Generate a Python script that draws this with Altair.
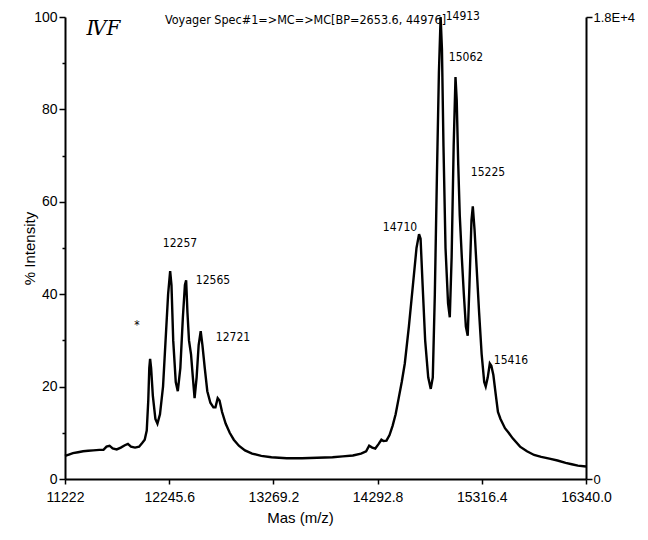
import altair as alt
import pandas as pd

# spectrum (m/z, % intensity)
mz = [11222, 11260, 11300, 11350, 11400, 11450, 11500, 11560, 11600, 11630, 11660, 11690,
      11730, 11770, 11810, 11840, 11870, 11910, 11950, 11980, 12005, 12025, 12040, 12050,
      12058, 12068, 12085, 12110, 12130, 12155, 12185, 12210, 12235, 12255, 12268, 12285,
      12310, 12330, 12355, 12380, 12400, 12412, 12425, 12440, 12460, 12478, 12495, 12515,
      12535, 12555, 12572, 12595, 12620, 12650, 12680, 12700, 12722, 12740, 12765, 12800,
      12840, 12880, 12930, 12990, 13060, 13150, 13250, 13400, 13550, 13700, 13850, 13950,
      14050, 14130, 14180, 14210, 14240, 14270, 14300, 14330, 14350, 14380, 14410, 14440,
      14470, 14500, 14530, 14560, 14600, 14640, 14675, 14700, 14715, 14735, 14760, 14790,
      14815, 14835, 14855, 14875, 14895, 14912, 14925, 14940, 14960, 14985, 15002, 15020,
      15040, 15058, 15070, 15085, 15100, 15120, 15140, 15160, 15178, 15195, 15215, 15228,
      15245, 15265, 15290, 15315, 15340, 15355, 15375, 15395, 15410, 15430, 15455, 15475,
      15500, 15544, 15580, 15620, 15692, 15760, 15830, 15900, 15980, 16060, 16140, 16200,
      16260, 16340]
intensity = [5.0, 5.3, 5.6, 5.8, 6.0, 6.1, 6.2, 6.3, 6.3, 7.0, 7.2, 6.6,
             6.4, 6.8, 7.3, 7.6, 7.0, 6.8, 7.0, 7.8, 8.5, 10.5, 17, 24,
             26, 24, 18, 13, 12, 14, 20, 30, 40, 45, 42, 30,
             21, 19, 24, 35, 42, 43, 36, 30, 27, 22, 17.5, 22,
             29, 32, 29, 24, 19, 16.5, 15.5, 15.5, 17.5, 17, 14.5, 12,
             10, 8.5, 7.2, 6.2, 5.5, 5.0, 4.7, 4.5, 4.5, 4.6, 4.7, 4.9,
             5.1, 5.5, 6.0, 7.2, 6.8, 6.6, 7.5, 8.5, 8.2, 8.3, 9.5, 11.5,
             14, 17.5, 21, 25, 33, 42, 50, 53, 52, 42, 30, 22,
             19.5, 22, 40, 65, 88, 100, 93, 72, 50, 38, 35, 48,
             72, 87, 82, 68, 57, 48, 40, 33, 31, 42, 56, 59,
             54, 46, 36, 27, 21, 20, 22, 25, 24.5, 22.5, 18, 14.5,
             13, 11, 10, 8.8, 7, 6, 5.2, 4.8, 4.4, 4.0, 3.5, 3.2,
             2.9, 2.7]

# annotations
ann_text = ["12257", "12565", "12721", "14710", "14913", "15062", "15225", "15416", "*"]
ann_mz = [12352, 12676, 12872, 14513, 15130, 15161, 15377, 15603, 11929]
ann_int = [51, 43, 30.7, 54.5, 100.3, 91.3, 66.5, 25.8, 33.3]

panel_text = ["\u2163F"]
panel_mz = [11600]
panel_int = [97.3]

x_ticks = [11222, 12245.6, 13269.2, 14292.8, 15316.4, 16340.0]
y_ticks = [0, 10, 20, 30, 40, 50, 60, 70, 80, 90, 100]

FONT = "Liberation Sans, Arial, sans-serif"
NARROW = "Liberation Sans Narrow, DejaVu Sans Condensed, Liberation Sans, sans-serif"

spec = pd.DataFrame({"mz": mz, "int": intensity})
ann = pd.DataFrame({"mz": ann_mz, "int": ann_int, "t": ann_text})
pan = pd.DataFrame({"mz": panel_mz, "int": panel_int, "t": panel_text})

xscale = alt.Scale(domain=[11222, 16340], nice=False, zero=False)
yscale = alt.Scale(domain=[0, 100], nice=False)

x_enc = alt.X("mz:Q", scale=xscale, title="Mas (m/z)",
              axis=alt.Axis(values=x_ticks,
                            labelExpr="datum.value == 11222 ? '11222' : format(datum.value, '.1f')",
                            labelFlush=False, grid=False, tickSize=5, labelPadding=6,
                            titlePadding=6, titleX=235, titleFontWeight="normal",
                            titleFontSize=15, labelFontSize=14))

line = alt.Chart(spec).mark_line(color="black", strokeWidth=2.4).encode(
    x=x_enc,
    y=alt.Y("int:Q", scale=yscale, title="% Intensity",
            axis=alt.Axis(orient="left", values=y_ticks,
                          labelExpr="datum.value % 20 == 0 ? datum.label : ''",
                          tickSize={"condition": {"test": "datum.value % 20 == 0", "value": 6}, "value": 3},
                          grid=False, labelPadding=2, titleX=-28,
                          titleFontWeight="normal", titleFontSize=15, labelFontSize=14)),
)

labels = alt.Chart(ann).mark_text(font=NARROW, fontSize=12, color="black").encode(
    x=alt.X("mz:Q", scale=xscale),
    y=alt.Y("int:Q", scale=yscale),
    text="t:N",
)

panel = alt.Chart(pan).mark_text(font="DejaVu Serif", fontSize=20, fontStyle="italic",
                                  color="black").encode(
    x=alt.X("mz:Q", scale=xscale),
    y=alt.Y("int:Q", scale=yscale),
    text="t:N",
)

main = alt.layer(line, labels, panel)

right = alt.Chart(spec).mark_line(opacity=0).encode(
    x=alt.X("mz:Q", scale=xscale),
    y=alt.Y("int:Q", scale=yscale, title=None,
            axis=alt.Axis(orient="right", values=[0, 100],
                          labelExpr="datum.value == 100 ? '1.8E+4' : '0'",
                          tickSize=6, grid=False, labelPadding=1, labelFontSize=13)),
)

chart = alt.layer(main, right).resolve_scale(y="independent").properties(
    width=521, height=462,
    title=alt.TitleParams("Voyager Spec#1=>MC=>MC[BP=2653.6, 44976]", fontSize=12.5,
                          fontWeight="normal", font=NARROW, offset=-17, dx=-20,
                          color="black"),
    autosize=alt.AutoSizeParams(type="none"),
    padding={"left": 57, "top": 9, "right": 54, "bottom": 55},
).configure_axis(
    domainColor="black", domainWidth=2, tickColor="black", tickWidth=1.5,
    labelColor="black", titleColor="black", labelFont=FONT, titleFont=FONT,
).configure_view(stroke=None)

chart.save("out.html", embed_options={"renderer": "svg", "actions": False})
